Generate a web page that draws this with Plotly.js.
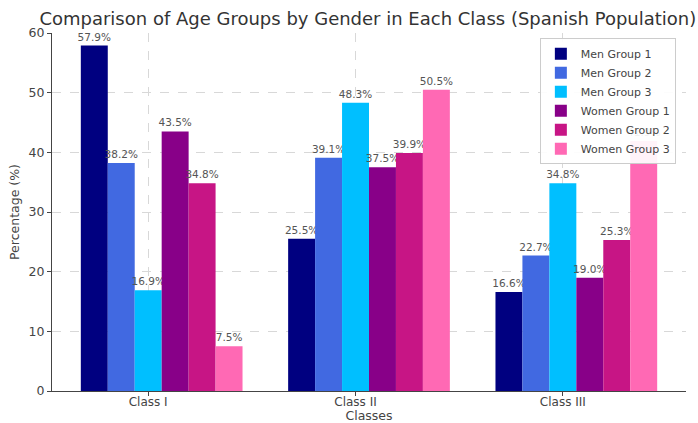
<!DOCTYPE html>
<html><head><meta charset="utf-8">
<script src="https://cdn.plot.ly/plotly-3.0.1.min.js"></script>
<style>html,body{margin:0;padding:0;background:#fff}#chart{width:698px;height:423px}</style>
</head><body><div id="chart"></div>
<script>
const classes = ["Class I", "Class II", "Class III"];
const seriesNames = ["Men Group 1", "Men Group 2", "Men Group 3", "Women Group 1", "Women Group 2", "Women Group 3"];
const menGroup1 = [57.9, 25.5, 16.6];
const menGroup2 = [38.2, 39.1, 22.7];
const menGroup3 = [16.9, 48.3, 34.8];
const womenGroup1 = [43.5, 37.5, 19.0];
const womenGroup2 = [34.8, 39.9, 25.3];
const womenGroup3 = [7.5, 50.5, 41.9];
const yTicks = [0, 10, 20, 30, 40, 50, 60];

const seriesValues = [menGroup1, menGroup2, menGroup3, womenGroup1, womenGroup2, womenGroup3];
const colors = ["#000080", "#4169E1", "#00BFFF", "#880088", "#C71585", "#FF69B4"];
const w = 0.13;
const xIdx = classes.map((c, i) => i);

const traces = seriesValues.map((vals, i) => ({
  type: "bar",
  name: seriesNames[i],
  x: xIdx,
  y: vals,
  width: w,
  offset: (i - 2.5) * w,
  marker: {color: colors[i], line: {width: 0}},
  text: vals.map(v => v.toFixed(1) + "%"),
  textposition: "outside",
  constraintext: "none",
  cliponaxis: false,
  textfont: {family: "DejaVu Sans", size: 10.5, color: "#555"},
  hoverinfo: "skip"
}));

const layout = {
  width: 698, height: 423,
  margin: {l: 52, r: 12, t: 33, b: 32},
  paper_bgcolor: "#fff", plot_bgcolor: "#fff",
  barmode: "overlay",
  font: {family: "DejaVu Sans", color: "#444"},
  title: {text: "Comparison of Age Groups by Gender in Each Class (Spanish Population)",
          font: {family: "DejaVu Sans", size: 18, color: "#333"},
          x: 0.527, xanchor: "center", y: 0.955, yanchor: "middle"},
  xaxis: {
    range: [-0.464, 2.594],
    tickmode: "array", tickvals: xIdx, ticktext: classes,
    ticks: "outside", ticklen: 4, tickcolor: "#444",
    ticklabelstandoff: -4,
    showline: true, linecolor: "#444", linewidth: 1,
    showgrid: true, gridcolor: "#d8d8d8", griddash: "dash", gridwidth: 1,
    zeroline: false,
    tickfont: {size: 12, color: "#444"},
    title: {text: "Classes", font: {size: 12.5, color: "#444"}, standoff: 2}
  },
  yaxis: {
    range: [0, 60],
    tickmode: "array", tickvals: yTicks,
    ticks: "outside", ticklen: 4, tickcolor: "#444",
    showline: true, linecolor: "#444", linewidth: 1,
    showgrid: true, gridcolor: "#d8d8d8", griddash: "dash", gridwidth: 1,
    zeroline: false,
    tickfont: {size: 12.5, color: "#444"},
    title: {text: "Percentage (%)", font: {size: 12.5, color: "#444"}, standoff: 6}
  },
  legend: {
    x: 0.984, xanchor: "right", y: 0.985, yanchor: "top",
    bgcolor: "rgba(255,255,255,0.92)", bordercolor: "#ccc", borderwidth: 1,
    font: {size: 11, color: "#444"}, tracegroupgap: 0
  },
  showlegend: true
};

Plotly.newPlot("chart", traces, layout, {displayModeBar: false, staticPlot: true});
</script></body></html>
